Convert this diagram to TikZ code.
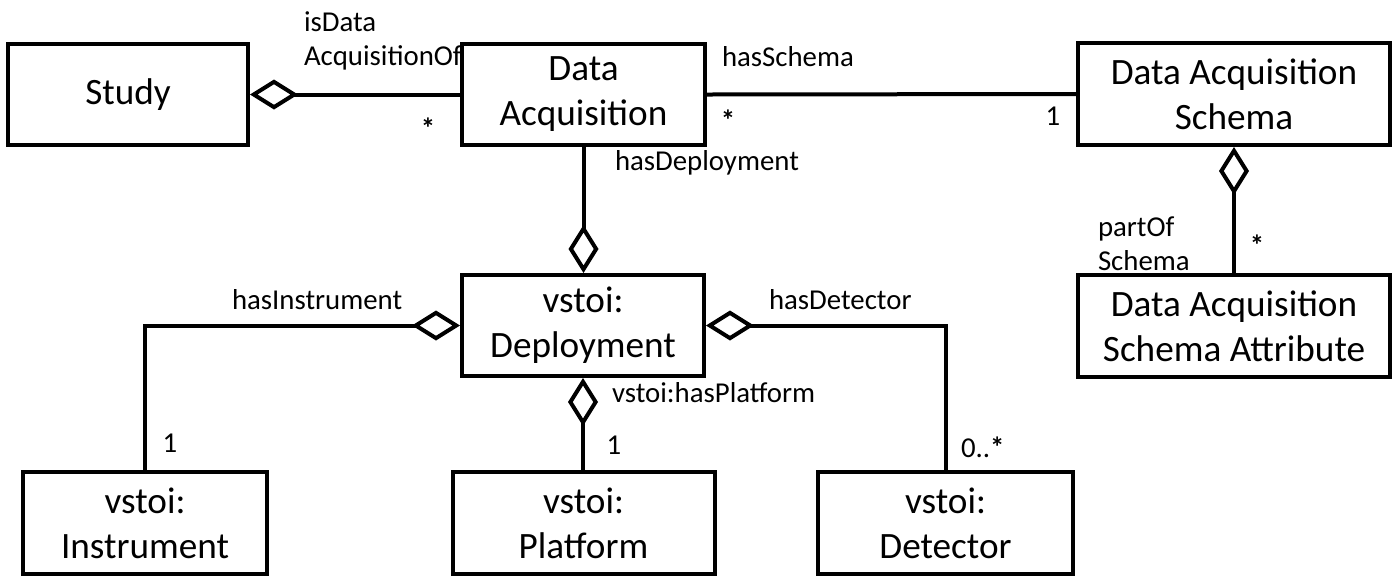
\documentclass[tikz,border=0pt]{standalone}
\usepackage{fontspec}
\setmainfont{Carlito}
\usetikzlibrary{arrows.meta}
\begin{document}
\begin{tikzpicture}[x=0.5pt, y=-0.5pt, line width=2pt, line join=miter,
	cls/.style={draw, minimum height=50.5pt, align=center, inner sep=2pt, font=\fontsize{18.6}{22.5}\selectfont},
	lbl/.style={inner sep=0pt, align=left, font=\fontsize{14.4}{17}\selectfont},
	aggr/.tip={Diamond[open, length=24pt, width=15pt]}]
	\useasboundingbox (0,0) rectangle (1396,585);
	\path
	(128,94.5) coordinate (S)
	(583.5,94.5) coordinate (DA)
	(1234,94) coordinate (DAS)
	(1234,326) coordinate (DASA)
	(583,325.5) coordinate (DEP)
	(145,523) coordinate (INS)
	(583.5,523) coordinate (PLA)
	(945.5,523) coordinate (DET)
	;
	\node[cls, minimum width=120pt] (study) at (S) {Study};
	\node[cls, minimum width=121.5pt] (da) at (DA) {Data\\Acquisition};
	\node[cls, minimum width=156pt, minimum height=51pt] (das) at (DAS) {Data Acquisition\\Schema};
	\node[cls, minimum width=156pt, minimum height=51pt] (dasa) at (DASA) {Data Acquisition\\Schema Attribute};
	\node[cls, minimum width=121pt] (dep) at (DEP) {vstoi:\\Deployment};
	\node[cls, minimum width=122pt, minimum height=51pt] (ins) at (INS) {vstoi:\\Instrument};
	\node[cls, minimum width=131pt, minimum height=51pt] (pla) at (PLA) {vstoi:\\Platform};
	\node[cls, minimum width=127.5pt, minimum height=51pt] (det) at (DET) {vstoi:\\Detector};
	% associations
	\draw[aggr-] (study.east) -- (da.west);
	\draw (da.east) -- (das.west);
	\draw[aggr-] (das.south) -- (dasa.north);
	\draw[-aggr] (da.south) -- (da.south |- dep.north);
	\draw[aggr-] (dep.south) -- (dep.south |- pla.north);
	\draw[aggr-] (dep.west) -| (ins.north);
	\draw[aggr-] (dep.east) -| (det.north);
	% role names
	\node[lbl, anchor=north west] (l1) at (302,10) {isData\\AcquisitionOf};
	\node[lbl, anchor=west] (l2) at (720,57) {hasSchema};
	\node[lbl, anchor=west] (l3) at (613,163) {hasDeployment};
	\node[lbl, anchor=north west] (l4) at (1096,215) {partOf\\Schema};
	\node[lbl, anchor=west] (l5) at (230,300) {hasInstrument};
	\node[lbl, anchor=west] (l6) at (767,300) {hasDetector};
	\node[lbl, anchor=west] (l7) at (610,393) {vstoi:hasPlatform};
	% multiplicities
	\foreach \t/\x/\y [count=\i] in {\textbf{*}/428/128, \textbf{*}/728/120, 1/1053/116, \textbf{*}/1257/245, 1/170/443, 1/614/445}
	\node[lbl] (m\i) at (\x,\y) {\t};
	\node[lbl, anchor=west] (m7) at (959,447) {0..\textbf{*}};
\end{tikzpicture}
\end{document}
